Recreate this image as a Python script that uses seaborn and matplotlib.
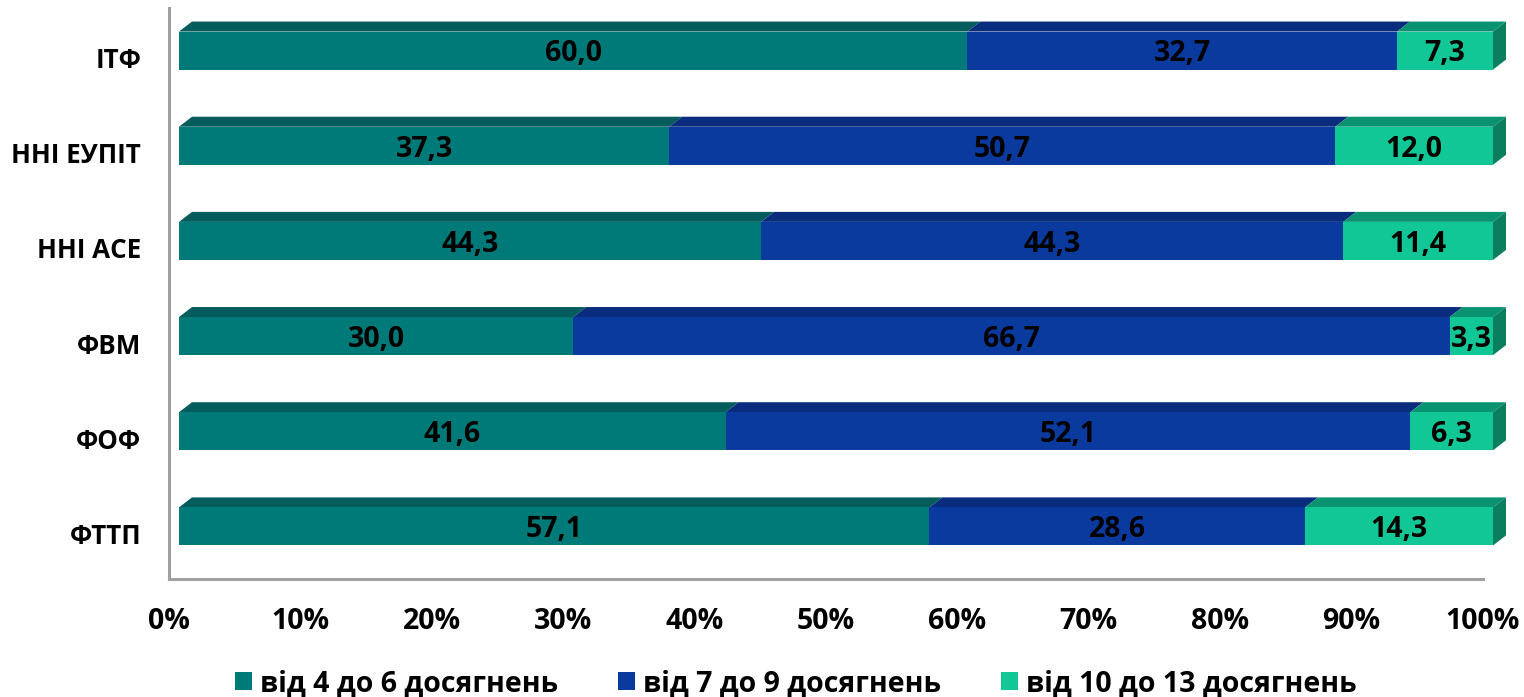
import matplotlib
matplotlib.use("Agg")
import matplotlib.pyplot as plt
import matplotlib.transforms as mtrans
from matplotlib.patches import Polygon, Patch
import pandas as pd
import seaborn as sns

categories = ["ІТФ", "ННІ ЕУПІТ", "ННІ АСЕ", "ФВМ", "ФОФ", "ФТТП"]
series_names = ["від 4 до 6 досягнень", "від 7 до 9 досягнень", "від 10 до 13 досягнень"]
low = [60.0, 37.3, 44.3, 30.0, 41.6, 57.1]
mid = [32.7, 50.7, 44.3, 66.7, 52.1, 28.6]
high = [7.3, 12.0, 11.4, 3.3, 6.3, 14.3]
front = ["#007A78", "#0B3A9E", "#12C796"]
top = ["#045D5C", "#0A2C7D", "#0A9370"]
side = "#0A7F60"
tick_labels = ["0%", "10%", "20%", "30%", "40%", "50%", "60%", "70%", "80%", "90%", "100%"]

W, H = 1524, 697
L, R, T, B = 169, 1483, 8, 579
FONT = ["Open Sans", "Noto Sans", "DejaVu Sans"]

sns.set_theme(style="white")
plt.rcParams["font.family"] = FONT
plt.rcParams["font.weight"] = "bold"

values = [low, mid, high]
rows = []
for c, cat in enumerate(categories):
    cum = 0
    for s, name in enumerate(series_names):
        start = cum
        cum += values[s][c]
        rows.append(dict(cat=cat, series=name, start=start, end=cum, value=values[s][c]))
df = pd.DataFrame(rows)

fig = plt.figure(figsize=(W / 100, H / 100), dpi=100)
ax = fig.add_axes([L / W, 1 - B / H, (R - L) / W, (B - T) / H])

sns.barplot(data=df, y="cat", x="end", hue="series", order=categories,
            hue_order=series_names[::-1], palette=front[::-1], dodge=False,
            width=0.4, saturation=1, legend=False, ax=ax, linewidth=0, zorder=3)
ax.set_xlim(0, 100)
ax.set_ylim(5.5, -0.5)

shift = ax.transData + mtrans.Affine2D().translate(10, 5)
for container in ax.containers:
    for p in container:
        p.set_transform(shift)
        p.set_clip_on(False)

px_x = 100 / (R - L)
row_h = (B - T) / 6
dx, dy = 13 * px_x, 10 / row_h
half = 0.2
for _, r in df.iterrows():
    i = categories.index(r["cat"])
    s = series_names.index(r["series"])
    yt = i - half
    ax.add_patch(Polygon([(r["start"], yt), (r["end"], yt), (r["end"] + dx, yt - dy), (r["start"] + dx, yt - dy)],
                         closed=True, fc=top[s], ec="none", transform=shift, zorder=2, clip_on=False))
    if s == 2:
        ax.add_patch(Polygon([(100, yt), (100 + dx, yt - dy), (100 + dx, i + half - dy), (100, i + half)],
                             closed=True, fc=side, ec="none", transform=shift, zorder=2, clip_on=False))
    ax.text((r["start"] + r["end"]) / 2, i + 0.035, f"{r['value']:.1f}".replace(".", ","),
            ha="center", va="center", fontsize=20.5, fontweight="bold", color="black",
            transform=shift, zorder=5, clip_on=False)

for sp in ["top", "right"]:
    ax.spines[sp].set_visible(False)
for sp in ["left", "bottom"]:
    ax.spines[sp].set_color("#A0A0A0")
    ax.spines[sp].set_linewidth(2.2)

ax.set_xlabel("")
ax.set_ylabel("")
ax.set_xticks(range(0, 101, 10))
ax.set_xticklabels(tick_labels, fontsize=20.5, fontweight="bold", color="black")
ax.tick_params(axis="x", length=0, pad=20)
ax.tick_params(axis="y", length=0, pad=20, labelsize=18.7, labelcolor="black")
for t in ax.get_yticklabels():
    t.set_fontweight("bold")
    t.set_transform(t.get_transform() + mtrans.Affine2D().translate(0, -2))

handles = [Patch(fc=c, ec="none") for c in front]
leg = fig.legend(handles, series_names, loc="center", bbox_to_anchor=(796 / W, 1 - 683.5 / H), ncol=3,
                 frameon=False, fontsize=20.5, handlelength=0.6, handleheight=0.6,
                 handletextpad=0.28, columnspacing=2.1, borderpad=0, borderaxespad=0)
for t in leg.get_texts():
    t.set_color("black")
fig.savefig("out.png", dpi=100)
